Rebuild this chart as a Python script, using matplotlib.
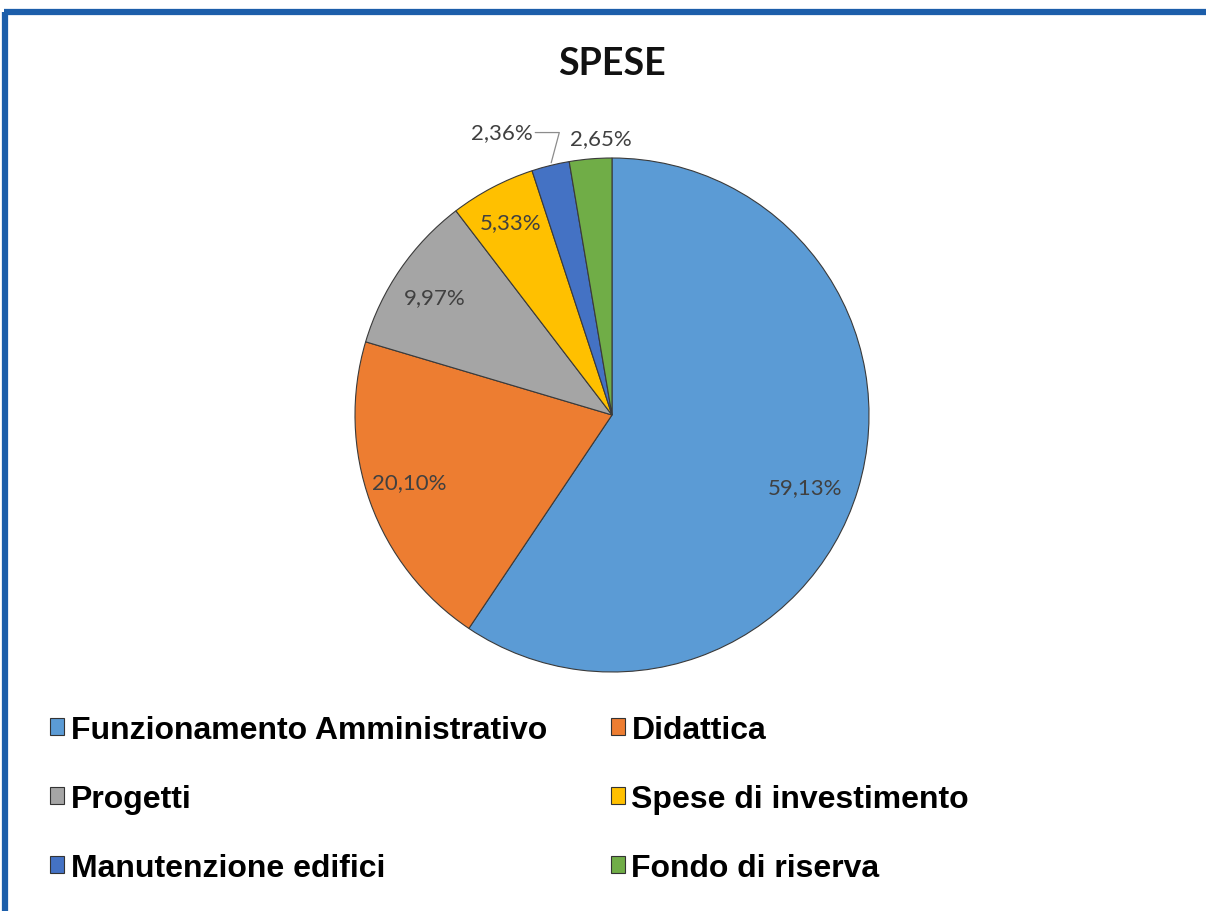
import numpy as np
import matplotlib
matplotlib.use("Agg")
import matplotlib.pyplot as plt
from matplotlib.lines import Line2D

# data
categories = ["Funzionamento Amministrativo", "Didattica", "Progetti",
              "Spese di investimento", "Manutenzione edifici", "Fondo di riserva"]
values = [59.13, 20.10, 9.97, 5.33, 2.36, 2.65]
colors = ["#5B9BD5", "#ED7D31", "#A5A5A5", "#FFC000", "#4472C4", "#70AD47"]

# label placement (radius as fraction of pie radius, angle shift in degrees)
label_dist = [0.80, 0.83, 0.83, 0.85, 1.18, 1.08]
label_shift = [-3.5, -1.5, 1.0, 0.0, 7.5, -2.5]

W, H = 1206, 912
fig = plt.figure(figsize=(W / 100, H / 100), dpi=100)
fig.patch.set_facecolor("white")

# blue frame (top and left edges visible)
fig.add_artist(Line2D([4 / W, 1.0], [1 - 13 / H, 1 - 13 / H], color="#1C5EAA", lw=4.5,
                      solid_capstyle="butt"))
fig.add_artist(Line2D([5 / W, 5 / W], [0.0, 1 - 13 / H], color="#1C5EAA", lw=4.5,
                      solid_capstyle="butt"))

# pie axes: centre (612, 416), radius 257 px
cx, cy, r = 612, 416, 257
ax = fig.add_axes([(cx - r) / W, (H - cy - r) / H, 2 * r / W, 2 * r / H])
wedges, _ = ax.pie(values, colors=colors, startangle=90, counterclock=False,
                   radius=1.0,
                   wedgeprops=dict(edgecolor="#3a3a3a", linewidth=0.8))
ax.set_xlim(-1, 1)
ax.set_ylim(-1, 1)
ax.set_aspect("equal")
ax.axis("off")

for i, w in enumerate(wedges):
    mid = (w.theta1 + w.theta2) / 2
    ang = np.deg2rad(mid + label_shift[i])
    txt = f"{values[i]:.2f}%".replace(".", ",")
    x, y = label_dist[i] * np.cos(ang), label_dist[i] * np.sin(ang)
    if i == 4:
        m = np.deg2rad(mid)
        ax.annotate(txt, xy=(1.0 * np.cos(m), 1.0 * np.sin(m)), xytext=(x, y),
                    ha="center", va="center", fontsize=16, color="#404040",
                    family="Lato",
                    arrowprops=dict(arrowstyle="-", color="#8c8c8c", lw=0.9,
                                    shrinkA=0, shrinkB=2,
                                    connectionstyle="angle,angleA=0,angleB=75,rad=0"),
                    annotation_clip=False)
    else:
        ax.text(x, y, txt, ha="center", va="center", fontsize=16,
                color="#404040", family="Lato")

fig.text(cx / W, 1 - 64 / H, "SPESE", ha="center", va="center", fontsize=27,
         fontweight="bold", family="Lato", color="#111111")

# legend in rows of two
order = [0, 2, 4, 1, 3, 5]
leg = fig.legend([wedges[k] for k in order], [categories[k] for k in order],
                 ncol=2, loc="upper left", bbox_to_anchor=(37 / W, 1 - 703 / H),
                 frameon=False, prop=dict(family="Liberation Sans", weight="bold", size=23),
                 handlelength=0.45, handleheight=0.45, handletextpad=0.2,
                 columnspacing=2.0, labelspacing=1.22, borderaxespad=0)
for h in leg.legend_handles:
    h.set_edgecolor("#333333")
    h.set_linewidth(0.8)

fig.savefig("out.png", dpi=100)
